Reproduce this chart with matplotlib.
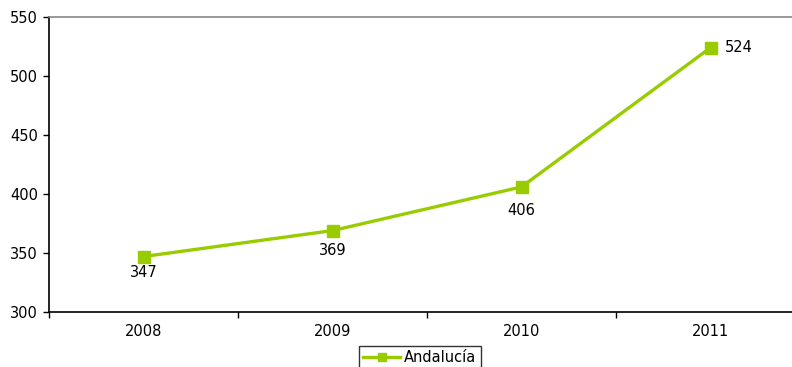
import matplotlib
matplotlib.use("Agg")
import matplotlib.pyplot as plt
import numpy as np

years = ["2008", "2009", "2010", "2011"]
values = [347, 369, 406, 524]
series_name = "Andalucía"
yticks = [300, 350, 400, 450, 500, 550]

plt.rcParams['font.family'] = ['DejaVu Sans']
fig = plt.figure(figsize=(7.92, 3.67), dpi=100)
ax = fig.add_axes([49/792, 1-312/367, (805-49)/792, (312-17)/367])
x = np.arange(len(years))
green = '#99CC00'
ax.plot(x, values, color=green, lw=2.4, marker='s', ms=8, label=series_name, clip_on=False)
ax.set_xlim(-0.5, len(years)-0.5)
ax.set_ylim(300, 550)
ax.set_yticks(yticks)
ax.set_yticklabels([str(v) for v in yticks], fontsize=10.5)
ax.set_xticks(x)
ax.set_xticklabels(years, fontsize=10.5)
ax.tick_params(axis='x', which='major', length=0, pad=9)
ax.set_xticks(np.arange(-0.5, len(years)), minor=True)
ax.tick_params(axis='x', which='minor', length=4, direction='out', width=1)
ax.tick_params(axis='y', length=4, direction='out', width=1, pad=4)
for s in ['left', 'bottom']:
    ax.spines[s].set_color('black')
    ax.spines[s].set_linewidth(1.2)
ax.spines['top'].set_color('#888888')
ax.spines['top'].set_linewidth(1.2)
ax.spines['right'].set_visible(False)

offsets = [(0, -11.5, 'center'), (0, -14.4, 'center'), (0, -17.3, 'center'), (10, 0, 'left')]
for xi, v, (dx, dy, ha) in zip(x, values, offsets):
    ax.annotate(str(v), (xi, v), xytext=(dx, dy), textcoords='offset points',
                ha=ha, va='center', fontsize=10.5)

leg = ax.legend(loc='upper center', bbox_to_anchor=((420-49)/(805-49), -0.09),
                frameon=True, fancybox=False, fontsize=10.5, handlelength=2.5,
                borderpad=0.3, handletextpad=0.3, markerscale=0.75)
leg.get_frame().set_edgecolor('black')
leg.get_frame().set_linewidth(1)

fig.savefig('out.png', dpi=100)
